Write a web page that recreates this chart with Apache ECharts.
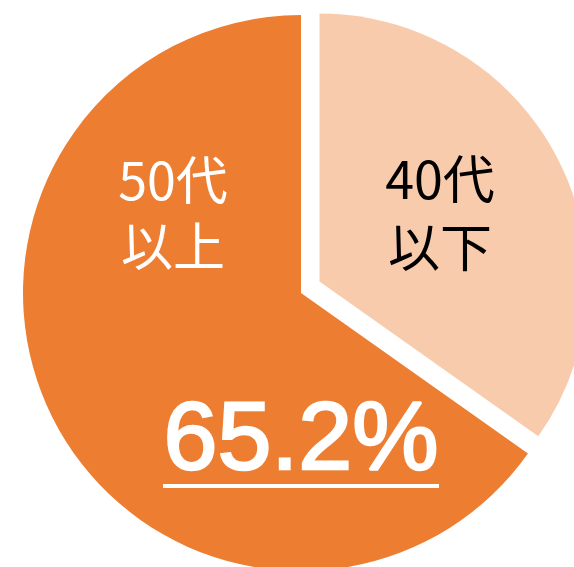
<!DOCTYPE html>
<html>
<head>
<meta charset="utf-8">
<script src="https://cdn.jsdelivr.net/npm/echarts@6/dist/echarts.min.js"></script>
<style>
html,body{margin:0;padding:0;background:#fff;}
#chart{width:574px;height:567px;}
</style>
</head>
<body>
<div id="chart"></div>
<script>
const categories = ['40代\n以下', '50代\n以上'];
const values = [34.8, 65.2];
const colors = ['#F8CBAD', '#ED7D31'];
const labelColors = ['#000000', '#ffffff'];
const highlightText = values[1].toFixed(1) + '%';

const chart = echarts.init(document.getElementById('chart'));
const cjk = '"Noto Sans CJK JP", "Noto Sans", sans-serif';

// one pie series per visible slice (the exploded slice is drawn smaller and shifted)
const sliceLayout = [
  { center: [319.5, 281.5], radius: 268 },
  { center: [301, 293], radius: 278 }
];

const series = sliceLayout.map((lay, k) => ({
  type: 'pie',
  center: lay.center,
  radius: [0, lay.radius],
  startAngle: 90,
  clockwise: true,
  silent: true,
  label: { show: false },
  labelLine: { show: false },
  emphasis: { disabled: true },
  itemStyle: { borderWidth: 0 },
  data: categories.map((c, i) => ({
    name: c,
    value: values[i],
    itemStyle: { color: i === k ? colors[i] : 'rgba(0,0,0,0)' }
  }))
}));

chart.setOption({
  backgroundColor: '#ffffff',
  animation: false,
  series: series,
  graphic: [
    {
      type: 'text', silent: true, z: 100,
      style: {
        x: 173, y: 213, text: categories[1], fill: labelColors[1],
        font: '52px ' + cjk, lineHeight: 66,
        textAlign: 'center', textVerticalAlign: 'middle'
      }
    },
    {
      type: 'text', silent: true, z: 100,
      style: {
        x: 440, y: 213, text: categories[0], fill: labelColors[0],
        font: '52px ' + cjk, lineHeight: 68,
        textAlign: 'center', textVerticalAlign: 'middle'
      }
    },
    {
      type: 'text', silent: true, z: 100,
      style: {
        x: 301, y: 442, text: highlightText, fill: '#ffffff',
        stroke: '#ffffff', lineWidth: 2.5,
        font: '97px "Liberation Sans", Arial, sans-serif',
        textAlign: 'center', textVerticalAlign: 'middle'
      }
    },
    {
      type: 'line', silent: true, z: 100,
      shape: { x1: 163, y1: 486, x2: 439, y2: 486 },
      style: { stroke: '#ffffff', lineWidth: 4 }
    }
  ]
});
</script>
</body>
</html>
